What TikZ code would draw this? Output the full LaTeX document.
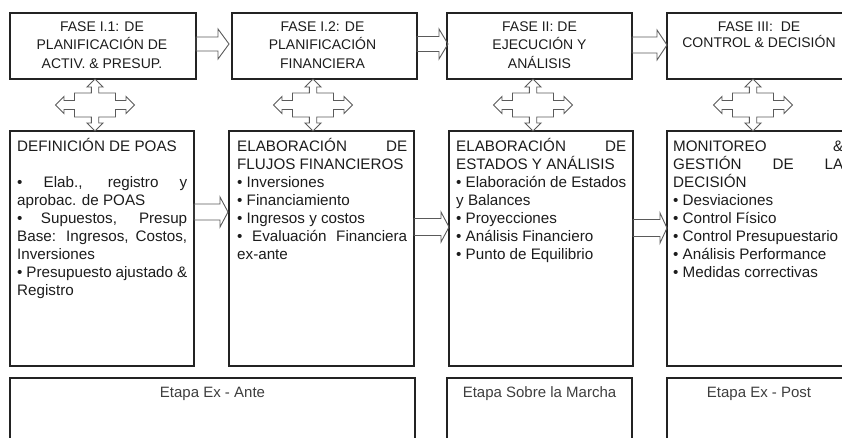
\documentclass[tikz,border=0pt]{standalone}
\usepackage{fontspec}
\setmainfont{Liberation Sans}
\usetikzlibrary{calc}
\definecolor{txt}{RGB}{28,28,28}
\definecolor{bord}{RGB}{35,35,35}
\definecolor{arr}{RGB}{90,90,90}
% hollow right arrow: x0, x1(tip), cy, shaft half, head half, head length
\newcommand\harrow[6]{%
  \draw[harr] (#1,#3-#4) -- (#2-#6,#3-#4) -- (#2-#6,#3-#5) -- (#2,#3)
    -- (#2-#6,#3+#5) -- (#2-#6,#3+#4) -- (#1,#3+#4) -- cycle;}
% four-way arrow centred at (cx,cy)
\newcommand\quadarrow[2]{%
  \draw[harr, shift={(#1,#2)}] (0,-26) -- (8,-18) -- (3.7,-18) -- (3.7,-12) -- (20.5,-12)
    -- (20.5,-4.5) -- (31,-4.5) -- (31,-8.5) -- (39.5,0) -- (31,8.5) -- (31,4.5)
    -- (20.5,4.5) -- (20.5,12) -- (3.7,12) -- (3.7,18) -- (8,18) -- (0,26)
    -- (-8,18) -- (-3.7,18) -- (-3.7,12) -- (-20.5,12) -- (-20.5,4.5) -- (-31,4.5)
    -- (-31,8.5) -- (-39.5,0) -- (-31,-8.5) -- (-31,-4.5) -- (-20.5,-4.5) -- (-20.5,-12)
    -- (-3.7,-12) -- (-3.7,-18) -- (-8,-18) -- cycle;}
\newcommand\spreadline[1]{\makebox[170pt][s]{#1}}
\begin{document}
\begin{tikzpicture}[x=1pt,y=-1pt,
  box/.style={draw=bord, line width=2pt, anchor=north west, inner sep=0pt, outer sep=0pt},
  harr/.style={draw=arr, line width=0.9pt, line join=miter},
  hdr/.style={anchor=base, inner sep=0pt, text=txt},
  bodytext/.style={anchor=base west, inner sep=0pt, text=txt},
  etapa/.style={anchor=base, inner sep=0pt, text=txt!85!white}]
\useasboundingbox (0,0) rectangle (842,437);
\clip (0,0) rectangle (842,437);
% top boxes
\node[box, minimum width=186pt, minimum height=66pt] (t1) at (10,13) {};
\node[box, minimum width=185pt, minimum height=66pt] (t2) at (232,13) {};
\node[box, minimum width=185pt, minimum height=66pt] (t3) at (447,13) {};
\node[box, minimum width=184pt, minimum height=66pt] (t4) at (667,13) {};
% body boxes
\node[box, minimum width=184pt, minimum height=235pt] (b1) at (10,131) {};
\node[box, minimum width=185pt, minimum height=235pt] (b2) at (229,131) {};
\node[box, minimum width=184pt, minimum height=235pt] (b3) at (449,131) {};
\node[box, minimum width=184pt, minimum height=235pt] (b4) at (667,131) {};
% etapa boxes
\node[box, minimum width=405pt, minimum height=80pt] (e1) at (10,378) {};
\node[box, minimum width=185pt, minimum height=80pt] (e2) at (447,378) {};
\node[box, minimum width=184pt, minimum height=80pt] (e3) at (667,378) {};
% header texts
\node[hdr] (h1) at ($(t1.north)+(-1,18)$) {\parbox[t]{184pt}{\centering\fontsize{14}{18.8}\selectfont FASE I.1: DE\\PLANIFICACIÓN DE\\ACTIV. \& PRESUP.}};
\node[hdr] (h2) at ($(t2.north)+(-2,18)$) {\parbox[t]{184pt}{\centering\fontsize{14}{18.8}\selectfont FASE I.2: DE\\PLANIFICACIÓN\\FINANCIERA}};
\node[hdr] (h3) at ($(t3.north)+(0,18)$) {\parbox[t]{184pt}{\centering\fontsize{14}{18.8}\selectfont FASE II: DE\\EJECUCIÓN Y\\ANÁLISIS}};
\node[hdr] (h4) at ($(t4.north)+(0,18)$) {\parbox[t]{184pt}{\centering\fontsize{14}{16}\selectfont FASE III:\ \ DE\\CONTROL \& DECISIÓN}};
% body texts
\node[bodytext] (x1) at ($(b1.north west)+(7,20.5)$) {\parbox[t]{176pt}{\raggedright\fontsize{15.2}{18}\selectfont
  DEFINICIÓN DE POAS\\ \mbox{}\\
  \spreadline{• Elab., registro y}\\
  aprobac. de POAS\\
  \spreadline{• Supuestos, Presup}\\
  \spreadline{Base: Ingresos, Costos,}\\
  Inversiones\\
  \spreadline{• Presupuesto ajustado \&}\\
  Registro}};
\node[bodytext] (x2) at ($(b2.north west)+(8,20.5)$) {\parbox[t]{176pt}{\raggedright\fontsize{15.2}{18}\selectfont
  \spreadline{ELABORACIÓN DE}\\
  FLUJOS FINANCIEROS\\
  • Inversiones\\
  • Financiamiento\\
  • Ingresos y costos\\
  \spreadline{• Evaluación Financiera}\\
  ex-ante}};
\node[bodytext] (x3) at ($(b3.north west)+(7,20.5)$) {\parbox[t]{176pt}{\raggedright\fontsize{15.2}{18}\selectfont
  \spreadline{ELABORACIÓN DE}\\
  ESTADOS Y ANÁLISIS\\
  \spreadline{• Elaboración de Estados}\\
  y Balances\\
  • Proyecciones\\
  • Análisis Financiero\\
  • Punto de Equilibrio}};
\node[bodytext] (x4) at ($(b4.north west)+(6,20.5)$) {\parbox[t]{176pt}{\raggedright\fontsize{15.2}{18}\selectfont
  \spreadline{MONITOREO \&}\\
  \spreadline{GESTIÓN DE LA}\\
  DECISIÓN\\
  • Desviaciones\\
  • Control Físico\\
  • Control Presupuestario\\
  • Análisis Performance\\
  • Medidas correctivas}};
% etapa texts
\node[etapa] (s1) at ($(e1.north)+(0,19)$) {\fontsize{15}{18}\selectfont Etapa Ex - Ante};
\node[etapa] (s2) at ($(e2.north)+(0,19)$) {\fontsize{15}{18}\selectfont Etapa Sobre la Marcha};
\node[etapa] (s3) at ($(e3.north)+(0,19)$) {\fontsize{15}{18}\selectfont Etapa Ex - Post};
% hollow arrows between top boxes
\harrow{196}{229}{44}{7}{15}{11}
\harrow{417}{448}{44}{7.5}{15}{9}
\harrow{632}{667}{45}{8}{15}{10}
% hollow arrows between body boxes
\harrow{194}{228}{212}{8}{15}{8}
\harrow{414}{449}{227}{8.5}{15}{8}
\harrow{633}{667}{228}{8.5}{15}{7}
% four-way arrows
\quadarrow{95}{105}
\quadarrow{313}{105}
\quadarrow{533}{105}
\quadarrow{753}{105}
\end{tikzpicture}
\end{document}
